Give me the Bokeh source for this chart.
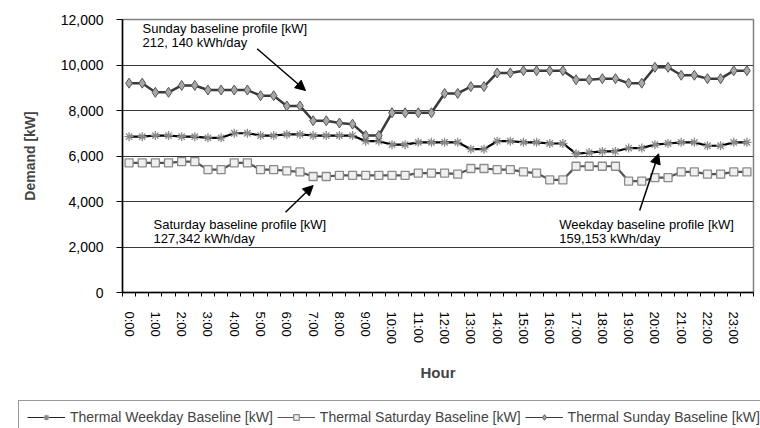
from bokeh.plotting import figure
from bokeh.layouts import column, row
from bokeh.models import (Range1d, FixedTicker, NumeralTickFormatter, Legend,
                          LegendItem, Arrow, NormalHead, Label)
from bokeh.embed import file_html
from bokeh.resources import INLINE

# ---- data (half-hourly, 48 points) ----
hour_labels = ["0:00", "1:00", "2:00", "3:00", "4:00", "5:00", "6:00", "7:00",
               "8:00", "9:00", "10:00", "11:00", "12:00", "13:00", "14:00", "15:00",
               "16:00", "17:00", "18:00", "19:00", "20:00", "21:00", "22:00", "23:00"]

weekday = [6850, 6850, 6900, 6900, 6850, 6850, 6800, 6800, 7000, 7000, 6900, 6900,
           6950, 6950, 6900, 6900, 6900, 6900, 6650, 6650, 6500, 6500, 6600, 6600,
           6600, 6600, 6300, 6300, 6650, 6650, 6600, 6600, 6550, 6550, 6100, 6150,
           6200, 6200, 6350, 6350, 6500, 6550, 6600, 6600, 6450, 6450, 6600, 6600]

saturday = [5700, 5700, 5700, 5700, 5750, 5750, 5400, 5400, 5700, 5700, 5400, 5400,
            5350, 5300, 5100, 5100, 5150, 5150, 5150, 5150, 5150, 5150, 5250, 5250,
            5250, 5200, 5450, 5450, 5400, 5400, 5300, 5250, 4950, 4950, 5550, 5550,
            5550, 5550, 4900, 4900, 5050, 5050, 5300, 5300, 5200, 5200, 5300, 5300]

sunday = [9200, 9200, 8800, 8800, 9100, 9100, 8900, 8900, 8900, 8900, 8650, 8650,
          8200, 8200, 7550, 7550, 7450, 7400, 6900, 6900, 7900, 7900, 7900, 7900,
          8750, 8750, 9050, 9050, 9650, 9650, 9750, 9750, 9750, 9750, 9350, 9350,
          9400, 9400, 9200, 9200, 9900, 9900, 9550, 9550, 9400, 9400, 9750, 9750]

y_ticks = [0, 2000, 4000, 6000, 8000, 10000, 12000]

series_names = ["Thermal Weekday Baseline [kW]",
                "Thermal Saturday Baseline [kW]",
                "Thermal Sunday Baseline [kW]"]

x = list(range(len(weekday)))
label_positions = x[::2]

FONT = "Liberation Sans"

# series styles
st_week_line = dict(line_color="black", line_width=2.2)
st_week_mark = dict(marker="asterisk", size=9, line_color="#8a8a8a", line_width=1.3)
st_sat_line = dict(line_color="#555555", line_width=2.2)
st_sat_mark = dict(marker="square", size=8, line_color="#8a8a8a",
                   fill_color="#f0f0f0", line_width=1.3)
st_sun_line = dict(line_color="#3a3a3a", line_width=2.5)
st_sun_mark = dict(marker="diamond", size=10, line_color="#555555",
                   fill_color="#a8a8a8", line_width=1)

p = figure(width=760, height=398,
           x_range=Range1d(-0.5, len(x) - 0.5), y_range=Range1d(0, 12000),
           output_backend="svg", toolbar_location=None,
           min_border_left=122, min_border_right=7,
           min_border_top=19, min_border_bottom=106)
p.outline_line_color = "#808080"
p.outline_line_width = 1.5
p.background_fill_color = "white"
p.border_fill_color = "white"

# grid
p.xgrid.visible = False
p.ygrid.ticker = FixedTicker(ticks=y_ticks)
p.ygrid.grid_line_color = "#3a3a3a"
p.ygrid.grid_line_width = 1.2

# x axis
xa = p.xaxis[0]
xa.ticker = FixedTicker(ticks=label_positions,
                        minor_ticks=[i - 0.5 for i in range(len(x) + 1)])
xa.major_label_overrides = {pos: lab for pos, lab in zip(label_positions, hour_labels)}
xa.major_label_orientation = "vertical"
xa.major_tick_line_color = None
xa.major_tick_out = 4
xa.major_tick_in = 0
xa.minor_tick_out = 4
xa.minor_tick_in = 0
xa.minor_tick_line_color = "black"
xa.axis_line_color = "black"
xa.axis_line_width = 1.5
xa.major_label_standoff = 15
xa.major_label_text_font = FONT
xa.major_label_text_font_size = "13px"
xa.major_label_text_color = "black"
xa.axis_label = "Hour"
xa.axis_label_text_font = FONT
xa.axis_label_text_font_style = "bold"
xa.axis_label_text_font_size = "15px"
xa.axis_label_standoff = 17

# y axis
ya = p.yaxis[0]
ya.ticker = FixedTicker(ticks=y_ticks)
ya.formatter = NumeralTickFormatter(format="0,0")
ya.minor_tick_line_color = None
ya.major_tick_out = 6
ya.major_tick_in = 0
ya.major_tick_line_color = "black"
ya.axis_line_color = "black"
ya.axis_line_width = 1.5
ya.major_label_standoff = 13
ya.major_label_text_font = FONT
ya.major_label_text_font_size = "14px"
ya.major_label_text_color = "black"
ya.axis_label = "Demand [kW]"
ya.axis_label_text_font = FONT
ya.axis_label_text_font_style = "bold"
ya.axis_label_text_font_size = "14px"
ya.axis_label_standoff = 20

# series
p.line(x, weekday, **st_week_line)
p.scatter(x, weekday, **st_week_mark)
p.line(x, saturday, **st_sat_line)
p.scatter(x, saturday, **st_sat_mark)
p.line(x, sunday, **st_sun_line)
p.scatter(x, sunday, **st_sun_mark)

# annotations
ann_font = dict(text_font=FONT, text_font_size="13px", text_color="black",
                text_baseline="middle", text_align="left")
p.add_layout(Label(x=1.02, y=11604, text="Sunday baseline  profile [kW]", **ann_font))
p.add_layout(Label(x=1.02, y=10989, text="212, 140 kWh/day", **ann_font))
p.add_layout(Label(x=1.86, y=2989, text="Saturday baseline profile [kW]", **ann_font))
p.add_layout(Label(x=1.86, y=2374, text="127,342 kWh/day", **ann_font))
p.add_layout(Label(x=32.73, y=2989, text="Weekday baseline profile [kW]", **ann_font))
p.add_layout(Label(x=32.73, y=2374, text="159,153 kWh/day", **ann_font))

def head():
    return NormalHead(size=10, fill_color="black", line_color="black")

p.add_layout(Arrow(end=head(), x_start=9.74, y_start=10712, x_end=13.42, y_end=8879,
                   line_color="black", line_width=1.5))
p.add_layout(Arrow(end=head(), x_start=11.90, y_start=3530, x_end=14.0, y_end=4703,
                   line_color="black", line_width=1.5))
p.add_layout(Arrow(end=head(), x_start=38.84, y_start=3604, x_end=40.28, y_end=6097,
                   line_color="black", line_width=1.5))

# ---- legend strip (below the chart) ----
# the same series are drawn here outside the visible range, only to feed the legend
lg = figure(width=760, height=30,
            x_range=Range1d(1000, 1001), y_range=Range1d(0, 1),
            output_backend="svg", toolbar_location=None,
            min_border=0, min_border_left=0, min_border_right=0,
            min_border_top=0, min_border_bottom=0)
lg.axis.visible = False
lg.grid.visible = False
lg.outline_line_color = None
lg.border_fill_color = "white"
lg.background_fill_color = "white"

r_wl = lg.line(x, weekday, line_color="#222222", line_width=1.2)
r_wm = lg.scatter(x, weekday, **st_week_mark)
r_sl = lg.line(x, saturday, line_color="#555555", line_width=1.2)
r_sm = lg.scatter(x, saturday, **st_sat_mark)
r_ul = lg.line(x, sunday, line_color="#3a3a3a", line_width=1.2)
r_um = lg.scatter(x, sunday, **st_sun_mark)

legend = Legend(items=[LegendItem(label=series_names[0], renderers=[r_wl, r_wm]),
                       LegendItem(label=series_names[1], renderers=[r_sl, r_sm]),
                       LegendItem(label=series_names[2], renderers=[r_ul, r_um])],
                orientation="horizontal", location=(18, -6), margin=0,
                padding=8, spacing=4, label_standoff=5,
                glyph_width=38, glyph_height=14, label_height=14,
                label_text_font=FONT, label_text_font_size="14px",
                border_line_color="#333333", border_line_width=1,
                background_fill_color="white", background_fill_alpha=1)
lg.add_layout(legend, "center")

layout = column(p, row(lg, spacing=0), spacing=0)
open("out.html", "w").write(file_html(layout, INLINE))
